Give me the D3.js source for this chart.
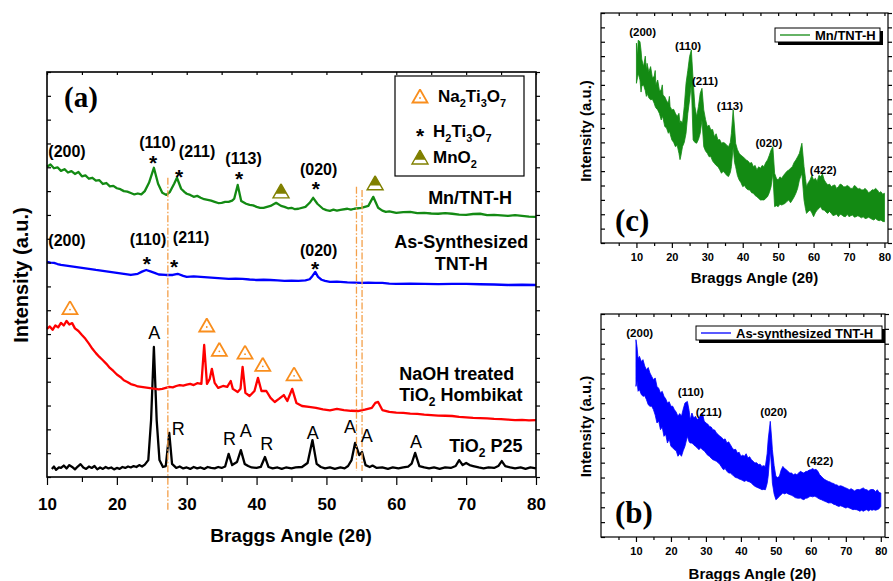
<!DOCTYPE html>
<html>
<head>
<meta charset="utf-8">
<script src="https://cdn.jsdelivr.net/npm/d3@7"></script>
<style>
  body { margin: 0; background: #fff; }
  svg text { font-family: "Liberation Sans", Arial, sans-serif; }
</style>
</head>
<body>
<svg id="fig" width="893" height="581"></svg>
<script>
// ---- data (angle 2theta, intensity a.u.) ----
// panel (a): stacked patterns
const mnTntH = [[10,1302],[10.5,1312],[11,1296],[11.5,1300],[12,1285],[12.5,1292],[13,1278],[13.5,1284],[14,1272],[14.5,1280],[15,1262],[15.5,1266],[16,1252],[16.5,1256],[17,1244],[17.5,1246],[18,1230],[18.5,1234],[19,1220],[19.5,1222],[20,1212],[20.5,1208],[21,1200],[21.5,1198],[22,1192],[22.5,1186],[23,1190],[23.5,1186],[24,1200],[24.6,1235],[25.3,1298],[25.9,1231],[26.5,1193],[27.1,1184],[27.6,1197],[28.2,1231],[28.6,1256],[29.2,1210],[29.7,1196],[30,1189],[30.5,1184],[31,1176],[31.5,1180],[32,1172],[32.5,1166],[33,1163],[33.5,1160],[34,1155],[34.5,1150],[35,1151],[35.5,1155],[36,1155],[36.5,1160],[36.8,1168],[37.3,1226],[37.8,1159],[38.5,1147],[39,1142],[39.5,1140],[40,1134],[40.5,1130],[41,1130],[41.5,1134],[42,1138],[42.8,1151],[43.5,1138],[44,1134],[44.5,1128],[45,1130],[45.5,1124],[46,1126],[47,1134],[47.6,1151],[48.1,1172],[48.7,1147],[49.5,1126],[50,1120],[50.5,1117],[51,1122],[51.5,1118],[52,1121],[53,1126],[53.5,1122],[54,1126],[55,1130],[56,1138],[56.7,1176],[57.4,1130],[58,1118],[58.5,1113],[59,1115],[60,1109],[61,1112],[62,1113],[63,1108],[64,1109],[65,1106],[66,1105],[67,1108],[68,1105],[69,1101],[70,1100],[71,1104],[72,1105],[73,1099],[74,1100],[75,1098],[76,1096],[77,1099],[78,1096],[79,1093],[80,1092]];
const asSynth = [[10,903],[10.5,900],[11,899],[11.5,894],[12,890],[13,886],[14,882],[15,878],[16,874],[17,869],[18,865],[19,861],[20,857],[21,853],[22,848],[23,853],[23.6,862],[24.2,869],[24.8,863],[25.4,857],[26,850],[27,848],[28,848],[28.7,853],[29.5,844],[30,840],[31,842],[32,840],[33,838],[34,836],[35,834],[36,832],[37,833],[38,832],[39,829],[40,827],[41,828],[42,827],[43,825],[44,823],[45,824],[46,823],[47,825],[47.6,830],[48,844],[48.4,861],[48.8,840],[49.3,828],[49.8,823],[50.5,819],[51.5,820],[52,819],[53,817],[54,816],[55,815],[56,816],[57,815],[58,815],[59,812],[60,811],[62,812],[64,811],[66,810],[68,811],[70,811],[72,809],[74,808],[76,806],[78,807],[80,806]];
const naohHomb = [[10,622],[10.4,632],[10.8,618],[11.2,636],[11.6,628],[12,647],[12.4,636],[12.8,655],[13.2,640],[13.6,646],[14,624],[14.5,613],[15,596],[15.5,580],[16,560],[16.5,538],[17,520],[17.5,504],[18,490],[18.5,475],[19,458],[19.5,445],[20,430],[20.5,420],[21,406],[21.5,399],[22,390],[22.5,386],[23,380],[23.5,378],[24,376],[24.5,374],[25,372],[25.5,370],[26,368],[26.5,370],[27,374],[27.5,378],[28,376],[28.5,382],[29,386],[29.5,384],[30,388],[30.5,391],[31,386],[31.5,394],[32.1,391],[32.5,554],[32.9,391],[33.3,412],[33.6,454],[34,395],[34.5,374],[35.2,382],[35.8,378],[36.3,403],[36.6,370],[37.3,357],[37.7,370],[38,462],[38.4,353],[39,340],[39.7,361],[40.2,416],[40.7,361],[41.4,361],[42,332],[42.6,315],[43.2,328],[43.9,344],[44.4,319],[45.1,370],[45.7,311],[46.5,298],[47.5,294],[48.5,290],[49.5,284],[50.5,280],[51.5,286],[52.5,281],[53.5,278],[54.5,277],[55.5,283],[56.5,290],[57,311],[57.4,315],[58,281],[59,273],[60,270],[61,269],[62,266],[63,265],[64,262],[65,260],[66,258],[67,257],[68,256],[69,252],[70,250],[71,248],[72,247],[73,246],[74,244],[75,243],[76,241],[77,239],[78,240],[79,238],[80,239]];
const p25 = [[10.7,34],[11,44],[11.3,30],[11.7,40],[12,38],[12.4,48],[12.8,36],[13.2,50],[13.6,42],[14,32],[14.4,44],[14.8,54],[15.2,40],[15.6,34],[16,44],[16.4,38],[16.8,46],[17.2,32],[17.6,40],[18,34],[18.4,42],[18.8,36],[19.2,40],[19.6,32],[20,38],[20.4,34],[20.8,42],[21.2,38],[21.6,44],[22,40],[22.4,46],[22.8,42],[23.2,50],[23.6,44],[24,52],[24.5,71],[24.9,239],[25.3,546],[25.7,239],[26.1,71],[26.6,42],[27.0,46],[27.5,185],[27.9,55],[28.5,38],[29,44],[29.5,36],[30,40],[30.5,34],[31,42],[31.5,36],[32,40],[32.5,34],[33,42],[33.5,38],[34,36],[34.5,42],[35,38],[35.5,44],[36,97],[36.5,50],[37.2,63],[37.75,113],[38.3,55],[38.8,46],[39.3,40],[40,38],[40.6,42],[41.2,84],[41.7,42],[42.3,36],[43,40],[43.6,34],[44.2,40],[45,36],[45.6,40],[46.5,42],[47.3,59],[48,155],[48.6,55],[49.2,42],[49.8,36],[50.5,40],[51.2,34],[52,40],[52.6,36],[53.1,46],[53.6,71],[54.1,143],[54.7,92],[55.1,105],[55.6,50],[56.2,42],[56.6,48],[57.2,38],[58,40],[58.8,34],[59.5,40],[60.3,36],[61,40],[61.7,44],[62.2,56],[62.7,101],[63.3,46],[64,40],[64.7,36],[65.4,40],[66.2,34],[67,40],[67.8,38],[68.5,46],[69,71],[69.5,50],[70,59],[70.5,50],[71,46],[71.8,40],[72.5,36],[73.2,40],[74,38],[74.6,46],[75.1,67],[75.6,46],[76.3,40],[77,36],[77.8,40],[78.5,34],[79.2,40],[80,36]];

// panel (a) annotations: [text, angle, intensity]
const mnPeakLabels = [['(200)',12.86,1344],['(110)',25.82,1380],['(211)',31.48,1344],['(113)',38.14,1315],['(020)',48.88,1268]];
const mnStars = [[25.18,1336],[28.9,1277],[37.5,1268],[48.48,1226]];
const mnO2Marks = [[43.5,1201],[56.97,1235]];
const asPeakLabels = [['(200)',12.86,970],['(110)',24.46,974],['(211)',30.62,983],['(020)',48.88,928]];
const asStars = [[24.28,911],[28.19,899],[48.38,890]];
const na2Marks = [[13.29,711],[32.87,638],[34.67,536],[38.35,524],[40.89,473],[45.37,433]];
const p25Phases = [['A',25.37,605],['R',28.80,205],['R',36.11,163],['A',38.45,197],['R',41.46,142],['A',48.05,186],['A',53.39,211],['A',55.78,173],['A',62.84,151]];
const refLines = [[27.3,1256,-139],[54.3,1218,25],[55.1,1205,25]];
const seriesNames = [
  ['Mn/TNT-H',64.56,1147,'start'],
  ['As-Synthesized',69.29,962,'middle'],
  ['TNT-H',69.29,869,'middle'],
  ['NaOH treated',60.41,407,'start'],
  ['TiO_2 Hombikat',60.41,319,'start'],
  ['TiO_2 P25',67.57,105,'start']
];
const xTicksA = [10,20,30,40,50,60,70,80];

// panel (c) Mn/TNT-H: [angle, upper, lower] of the noisy trace
const mnInset = [[10,1390,1111],[10.3,1300,1150],[10.5,1410,1180],[11,1401,1134],[11.3,1340,1050],[11.5,1280,1090],[12,1227,1100],[12.5,1300,1060],[12.8,1200,1020],[13,1250,1042],[13.5,1190,1010],[14,1227,996],[14.5,1150,1000],[15,1158,973],[15.3,1200,950],[15.5,1100,940],[16,1134,926],[16.5,1060,900],[17,1065,856],[17.3,1100,880],[17.5,1030,870],[18,1018,810],[18.5,990,800],[19,972,763],[19.3,1020,780],[19.5,950,760],[20,926,717],[20.5,930,700],[21,902,670],[21.5,880,680],[22,902,624],[22.3,830,580],[22.5,850,600],[23,833,670],[23.5,950,700],[24,1111,763],[24.5,1200,900],[25,1297,995],[25.5,1343,1111],[26,1134,717],[26.5,950,700],[27,879,694],[27.5,950,720],[28,1042,763],[28.5,1076,856],[29,926,670],[29.5,860,640],[30,810,624],[30.5,820,600],[31,786,601],[31.5,790,570],[32,740,554],[32.5,760,540],[33,717,531],[33.5,720,510],[34,694,485],[34.5,700,500],[35,694,485],[35.5,680,470],[36,670,462],[36.5,700,490],[36.8,763,531],[37.3,926,670],[37.7,800,560],[38,694,531],[38.5,650,470],[39,624,438],[39.5,610,420],[40,601,392],[40.5,590,400],[41,578,380],[41.5,570,370],[42,554,369],[42.5,560,350],[43,531,346],[43.5,540,330],[44,508,322],[44.5,530,310],[45,520,299],[45.5,540,300],[46,531,299],[46.5,560,310],[47,578,322],[47.5,610,350],[48,647,392],[48.5,670,485],[49,485,253],[49.5,450,260],[50,438,253],[50.5,460,270],[51,450,264],[51.5,470,270],[52,485,276],[52.5,500,290],[53,508,299],[53.5,520,280],[54,531,299],[54.5,560,320],[55,578,346],[55.5,600,380],[56,624,438],[56.7,694,485],[57.3,531,299],[57.7,450,240],[58,392,206],[58.5,420,220],[59,438,229],[59.5,470,210],[60,438,183],[60.5,450,210],[61,427,229],[61.5,470,240],[62,462,253],[62.5,480,230],[63,438,229],[63.5,420,215],[64,404,206],[64.5,410,220],[65,392,206],[65.5,400,190],[66,404,195],[66.5,380,200],[67,392,183],[67.5,410,200],[68,404,195],[68.5,390,185],[69,392,183],[69.5,400,200],[70,392,183],[70.5,380,190],[71,380,195],[71.5,400,180],[72,392,183],[72.5,375,190],[73,380,183],[73.5,370,175],[74,369,183],[74.5,380,170],[75,369,172],[75.5,350,180],[76,357,172],[76.5,370,165],[77,369,160],[77.5,380,170],[78,369,160],[78.5,350,155],[79,357,160],[79.5,340,150],[80,346,148]];
const mnInsetLabels = [['(200)',11.75,1443],['(110)',24.56,1345],['(211)',29.35,1096],['(113)',36.39,927],['(020)',47.38,671],['(422)',62.73,481]];

// panel (b) as-synthesized TNT-H
const asInset = [[10,1327,1013],[10.3,1280,1050],[10.6,1200,980],[11,1215,991],[11.5,1180,960],[12,1193,946],[12.5,1150,950],[13,1125,924],[13.5,1140,890],[14,1103,879],[14.5,1080,880],[15,1058,856],[15.5,1070,820],[16,1013,767],[16.5,1000,780],[17,969,722],[17.5,980,740],[18,946,677],[18.5,930,690],[19,901,632],[19.5,910,660],[20,879,610],[20.5,880,600],[21,856,587],[21.5,840,580],[22,812,543],[22.5,830,560],[23,812,543],[23.5,860,580],[24,901,610],[24.7,912,677],[25.2,850,640],[25.5,789,632],[26,834,632],[26.5,800,620],[27,812,610],[27.5,790,600],[28,800,587],[28.5,820,600],[29,834,587],[29.5,780,580],[30,767,565],[30.5,760,550],[31,744,543],[31.5,740,530],[32,722,520],[32.5,720,515],[33,700,509],[33.5,690,500],[34,677,487],[34.5,670,470],[35,655,453],[35.5,660,460],[36,632,442],[36.5,640,430],[37,621,430],[37.5,600,420],[38,587,408],[38.5,590,400],[39,565,397],[39.5,570,390],[40,543,386],[40.5,550,380],[41,543,374],[41.5,560,380],[42,531,374],[42.5,540,370],[43,520,363],[43.5,510,350],[44,498,341],[44.5,500,335],[45,487,330],[45.5,490,325],[46,475,318],[46.5,480,320],[47,475,318],[47.5,560,360],[47.8,655,408],[48.4,778,587],[48.8,660,450],[49,587,363],[49.5,480,290],[50,408,251],[50.5,400,260],[51,408,274],[51.5,450,285],[52,475,296],[52.5,460,290],[53,453,296],[53.5,440,290],[54,430,285],[54.5,430,280],[55,419,274],[55.5,425,265],[56,419,262],[56.5,430,260],[57,442,262],[57.5,435,255],[58,430,251],[58.5,440,260],[59,442,262],[59.5,450,270],[60,453,274],[60.5,460,270],[61,453,274],[61.5,455,270],[62,442,262],[62.5,420,255],[63,408,251],[63.5,395,245],[64,386,240],[64.5,380,235],[65,374,229],[65.5,370,230],[66,363,229],[66.5,360,220],[67,352,217],[67.5,350,210],[68,341,206],[68.5,345,210],[69,341,206],[69.5,335,200],[70,330,195],[70.5,325,200],[71,318,195],[71.5,325,190],[72,318,184],[72.5,310,185],[73,318,184],[73.5,320,180],[74,318,173],[74.5,325,180],[75,330,173],[75.5,320,180],[76,318,184],[76.5,310,175],[77,318,184],[77.5,320,180],[78,318,184],[78.5,305,180],[79,318,184],[79.5,300,190],[80,296,206]];
const asInsetLabels = [['(200)',11.07,1342],['(110)',25.66,950],['(211)',30.81,811],['(020)',49.4,811],['(422)',62.56,486]];
const xTicksInset = [10,20,30,40,50,60,70,80];

// ---- drawing ----
const svg = d3.select('#fig');
const GREEN = '#138a13', BLUE = '#0000ff', RED = '#ff0000', ORANGE = '#f98e1d', OLIVE = '#808000', DASH = '#f4a04a';
const SERIF = '"Liberation Serif", "Times New Roman", serif';

function richText(sel, str, sub) {
  const parts = str.split(/_(\d)/);
  parts.forEach((p, i) => {
    if (!p) return;
    if (i % 2) sel.append('tspan').attr('font-size', sub).attr('dy', sub * 0.45).text(p);
    else sel.append('tspan').attr('dy', i ? -sub * 0.45 : 0).text(p);
  });
}

function styleAxis(g, size) {
  g.select('.domain').remove();
  g.selectAll('line').attr('stroke', '#000').attr('stroke-width', 1.2);
  g.selectAll('text').attr('font-size', size).attr('font-weight', 'bold').attr('fill', '#000');
}

function frameAxes(g, x, y, opt) {
  const [x0, x1] = x.range(), [y0, y1] = y.range();
  g.append('g').attr('transform', `translate(0,${y0})`)
    .call(d3.axisBottom(x).tickValues(opt.major).tickSize(opt.majorLen).tickFormat(d3.format('d')))
    .call(a => styleAxis(a, opt.font))
    .call(a => a.selectAll('text').attr('y', opt.labelGap).attr('dy', '0.71em'));
  g.append('g').attr('transform', `translate(0,${y0})`)
    .call(d3.axisBottom(x).tickValues(opt.minor).tickSize(opt.minorLen).tickFormat(''))
    .call(a => styleAxis(a, opt.font));
  g.append('g').attr('transform', `translate(0,${y1})`)
    .call(d3.axisTop(x).tickValues(opt.major.concat(opt.minor)).tickSize(-3).tickFormat(''))
    .call(a => styleAxis(a, opt.font));
  g.append('g').attr('transform', `translate(${x0},0)`)
    .call(d3.axisLeft(y).tickValues(opt.yTicks).tickSize(-4).tickFormat(''))
    .call(a => styleAxis(a, opt.font));
  g.append('g').attr('transform', `translate(${x1},0)`)
    .call(d3.axisRight(y).tickValues(opt.yTicks).tickSize(4).tickFormat(''))
    .call(a => styleAxis(a, opt.font));
  g.append('rect').attr('x', x0).attr('y', y1).attr('width', x1 - x0).attr('height', y0 - y1)
    .attr('fill', 'none').attr('stroke', '#000').attr('stroke-width', opt.frame);
}

// triangle marker path centred at 0,0
function triPath(w, h) {
  return d3.line()([[0, -h / 2], [w / 2, h / 2], [-w / 2, h / 2], [0, -h / 2]]);
}
function na2Marker(g, cx, cy) {
  const m = g.append('g').attr('transform', `translate(${cx},${cy})`);
  m.append('path').attr('d', triPath(15, 13)).attr('fill', '#fff').attr('stroke', ORANGE).attr('stroke-width', 1.8);
  m.append('circle').attr('cy', 2).attr('r', 0.9).attr('fill', ORANGE);
}
function mnO2Marker(g, cx, cy) {
  const m = g.append('g').attr('transform', `translate(${cx},${cy})`);
  m.append('path').attr('d', triPath(16, 14)).attr('fill', '#fff').attr('stroke', OLIVE).attr('stroke-width', 1.4);
  m.append('path').attr('d', d3.line()([[0, -7], [5.6, 2.8], [-5.6, 2.8]])).attr('fill', OLIVE);
}
function star(g, cx, cy) {
  g.append('text').attr('x', cx).attr('y', cy + 11).attr('text-anchor', 'middle')
    .attr('font-size', 21).attr('font-weight', 'bold').text('*');
}

// ---------- panel (a) ----------
const xA = d3.scaleLinear().domain([10, 80]).range([47, 536]);
const yA = d3.scaleLinear().domain([0, 1700]).range([477, 72]);
const gA = svg.append('g');

const lineA = d3.line().x(d => xA(d[0])).y(d => yA(d[1]));
[[p25, '#000'], [naohHomb, RED], [asSynth, BLUE], [mnTntH, GREEN]].forEach(([s, c]) => {
  gA.append('path').attr('d', lineA(s)).attr('fill', 'none').attr('stroke', c)
    .attr('stroke-width', 2.3).attr('stroke-linejoin', 'round');
});

refLines.forEach(([a, v0, v1]) => {
  gA.append('line').attr('x1', xA(a)).attr('x2', xA(a)).attr('y1', yA(v0)).attr('y2', yA(v1))
    .attr('stroke', DASH).attr('stroke-width', 1.3).attr('stroke-dasharray', '7,2,1.5,2');
});

frameAxes(gA, xA, yA, {
  major: xTicksA, minor: [15, 25, 35, 45, 55, 65, 75], majorLen: 8, minorLen: 5,
  labelGap: 21, font: 17, frame: 1.6, yTicks: d3.range(0, 1701, 100)
});

[mnPeakLabels, asPeakLabels].forEach(set => set.forEach(([t, a, v]) => {
  gA.append('text').attr('x', xA(a)).attr('y', yA(v)).attr('text-anchor', 'middle')
    .attr('font-size', 16).attr('font-weight', 'bold').text(t);
}));
mnStars.concat(asStars).forEach(([a, v]) => star(gA, xA(a), yA(v)));
mnO2Marks.forEach(([a, v]) => mnO2Marker(gA, xA(a), yA(v)));
na2Marks.forEach(([a, v]) => na2Marker(gA, xA(a), yA(v)));
p25Phases.forEach(([t, a, v]) => {
  gA.append('text').attr('x', xA(a)).attr('y', yA(v) + 6.5).attr('text-anchor', 'middle')
    .attr('font-size', 18).text(t);
});
seriesNames.forEach(([t, a, v, anchor]) => {
  const tx = gA.append('text').attr('x', xA(a)).attr('y', yA(v)).attr('text-anchor', anchor)
    .attr('font-size', 18).attr('font-weight', 'bold');
  richText(tx, t, 12);
});

gA.append('text').attr('x', 64).attr('y', 107).style('font-family', SERIF)
  .attr('font-size', 29).attr('font-weight', 'bold').text('(a)');

gA.append('text').attr('x', 291).attr('y', 542).attr('text-anchor', 'middle')
  .attr('font-size', 19).attr('font-weight', 'bold').text('Braggs Angle (2θ)');
gA.append('text').attr('transform', 'translate(28,275) rotate(-90)').attr('text-anchor', 'middle')
  .attr('font-size', 20).attr('font-weight', 'bold').text('Intensity (a.u.)');

// legend (a)
const lg = gA.append('g');
lg.append('rect').attr('x', 395).attr('y', 76).attr('width', 129).attr('height', 100)
  .attr('fill', '#fff').attr('stroke', '#000').attr('stroke-width', 1.2);
na2Marker(lg, 420, 96);
star(lg, 420, 132);
mnO2Marker(lg, 420, 157);
[['Na_2Ti_3O_7', 438, 102], ['H_2Ti_3O_7', 433, 137], ['MnO_2', 433, 163]].forEach(([t, lx, ly]) => {
  const tx = lg.append('text').attr('x', lx).attr('y', ly).attr('font-size', 17).attr('font-weight', 'bold');
  richText(tx, t, 11);
});

// ---------- insets ----------
function drawInset(cfg) {
  const g = svg.append('g');
  const x = d3.scaleLinear().domain(cfg.xDomain).range(cfg.xRange);
  const y = d3.scaleLinear().domain(cfg.yDomain).range(cfg.yRange);
  const area = d3.area().x(d => x(d[0])).y0(d => y(d[2])).y1(d => y(d[1]));
  g.append('path').attr('d', area(cfg.data)).attr('fill', cfg.color)
    .attr('stroke', cfg.color).attr('stroke-width', 0.8).attr('stroke-linejoin', 'miter');
  frameAxes(g, x, y, {
    major: xTicksInset, minor: [5, 15, 25, 35, 45, 55, 65, 75], majorLen: 5, minorLen: 3,
    labelGap: 10, font: 11, frame: 1.2, yTicks: d3.range(cfg.yDomain[0], cfg.yDomain[1] + 1, 100)
  });
  cfg.labels.forEach(([t, a, v]) => {
    g.append('text').attr('x', x(a)).attr('y', y(v)).attr('text-anchor', 'middle')
      .attr('font-size', 11.5).attr('font-weight', 'bold').text(t);
  });
  const [lx0, ly0, lx1, ly1] = cfg.legend;
  g.append('rect').attr('x', lx0 + 3).attr('y', ly0 + 3).attr('width', lx1 - lx0).attr('height', ly1 - ly0).attr('fill', '#000');
  g.append('rect').attr('x', lx0).attr('y', ly0).attr('width', lx1 - lx0).attr('height', ly1 - ly0)
    .attr('fill', '#fff').attr('stroke', '#000').attr('stroke-width', 1);
  g.append('line').attr('x1', lx0 + 5).attr('x2', lx0 + 35).attr('y1', (ly0 + ly1) / 2).attr('y2', (ly0 + ly1) / 2)
    .attr('stroke', cfg.color).attr('stroke-width', 1.3);
  g.append('text').attr('x', lx0 + 40).attr('y', (ly0 + ly1) / 2 + 4.5).attr('font-size', 13)
    .attr('font-weight', 'bold').text(cfg.name);
  const [xr0] = cfg.xRange;
  g.append('text').attr('x', (x(10) + x(80)) / 2 - 6).attr('y', cfg.titleY).attr('text-anchor', 'middle')
    .attr('font-size', 15).attr('font-weight', 'bold').text('Braggs Angle (2θ)');
  const cy = (cfg.yRange[0] + cfg.yRange[1]) / 2 + cfg.yLabelShift;
  g.append('text').attr('transform', `translate(${xr0 - 10},${cy}) rotate(-90)`).attr('text-anchor', 'middle')
    .attr('font-size', 15).attr('font-weight', 'bold').text('Intensity (a.u.)');
  g.append('text').attr('x', xr0 + 14).attr('y', cfg.tagY).style('font-family', SERIF)
    .attr('font-size', 31).attr('font-weight', 'bold').text(cfg.tag);
}

drawInset({
  data: mnInset, labels: mnInsetLabels, color: GREEN, name: 'Mn/TNT-H', tag: '(c)',
  xDomain: [0, 81], xRange: [601, 888], yDomain: [0, 1600], yRange: [243, 13],
  legend: [775, 28, 880, 42], titleY: 283, tagY: 231, yLabelShift: 3
});
drawInset({
  data: asInset, labels: asInsetLabels, color: BLUE, name: 'As-synthesized TNT-H', tag: '(b)',
  xDomain: [0, 81.2], xRange: [601, 885], yDomain: [0, 1500], yRange: [537, 314],
  legend: [696, 326, 882, 340], titleY: 579, tagY: 523, yLabelShift: 1
});
</script>
</body>
</html>
